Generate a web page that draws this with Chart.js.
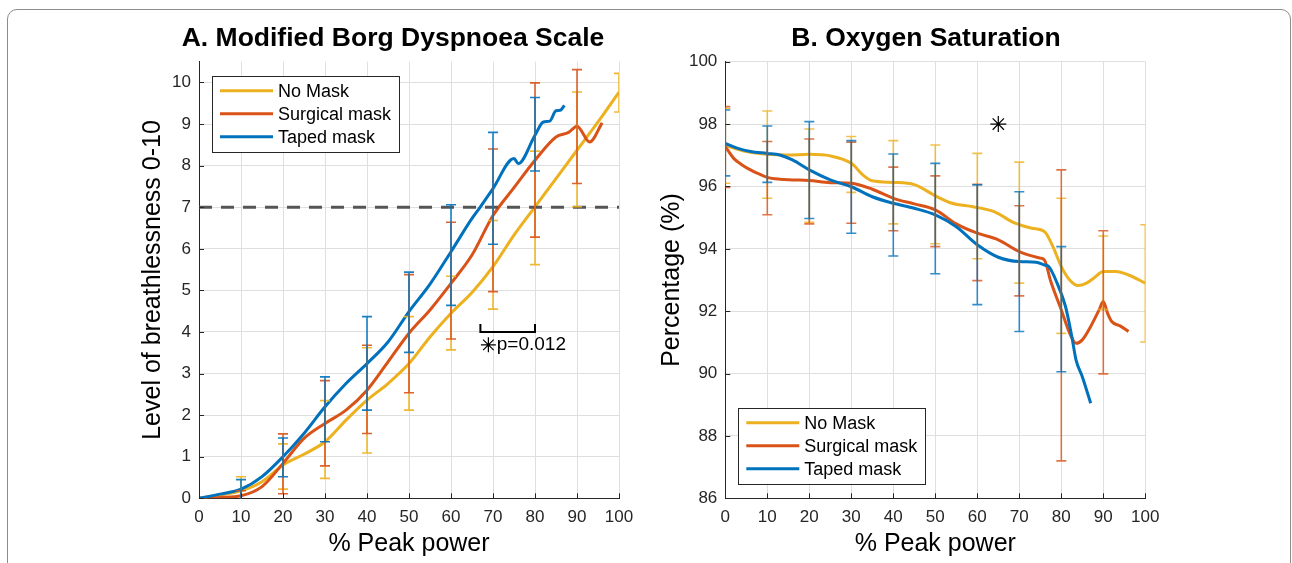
<!DOCTYPE html>
<html>
<head>
<meta charset="utf-8">
<script src="https://cdn.jsdelivr.net/npm/chart.js@4.4.1/dist/chart.umd.min.js"></script>
<style>
  html, body { margin: 0; padding: 0; background: #fff; }
  body { width: 1292px; height: 563px; position: relative; overflow: hidden; }
  #frame { position: absolute; left: 7px; top: 9px; width: 1282px; height: 620px; border: 1px solid #8c8c8c; border-radius: 10px; }
  canvas { position: absolute; top: 0; }
  #chartA { left: 0; }
  #chartB { left: 560px; }
</style>
</head>
<body>
<div id="frame"></div>
<canvas id="chartA" width="786" height="563"></canvas>
<canvas id="chartB" width="732" height="563"></canvas>
<script>
// ---- Panel A: Modified Borg Dyspnoea Scale ----
const borgNoMaskX = [0, 5, 10, 15, 20, 25, 30, 35, 40, 45, 50, 55, 60, 65, 70, 75, 80, 85, 90, 95, 100];
const borgNoMask = [0, 0.08, 0.18, 0.40, 0.80, 1.06, 1.36, 1.88, 2.36, 2.76, 3.24, 3.88, 4.45, 4.95, 5.57, 6.33, 7.01, 7.69, 8.37, 9.05, 9.77];
const borgSurgicalX = [0, 5, 10, 15, 20, 25, 30, 35, 40, 45, 50, 55, 60, 65, 70, 75, 80, 85, 88, 90, 93, 96];
const borgSurgical = [0, 0.02, 0.06, 0.28, 0.84, 1.44, 1.80, 2.12, 2.60, 3.28, 3.97, 4.53, 5.17, 5.85, 6.80, 7.47, 8.13, 8.69, 8.80, 8.95, 8.57, 9.03];
const borgTapedX = [0, 5, 10, 15, 20, 25, 30, 35, 40, 45, 50, 55, 60, 65, 67, 70, 75, 76, 80, 82, 83.5, 85, 86, 87];
const borgTaped = [0, 0.1, 0.22, 0.52, 1.0, 1.56, 2.20, 2.76, 3.24, 3.76, 4.49, 5.15, 5.93, 6.73, 7.01, 7.45, 8.17, 8.05, 8.73, 9.05, 9.07, 9.32, 9.33, 9.45];

// error bars (mean +/- SD) at each 10 % step
const borgErrNoMaskX = [10, 20, 30, 40, 50, 60, 70, 80, 90, 100];
const borgErrNoMaskLo = [-0.1, 0.22, 0.48, 1.09, 2.12, 3.57, 4.55, 5.62, 7.01, 9.29];
const borgErrNoMaskHi = [0.52, 1.31, 2.35, 3.62, 4.37, 5.34, 6.68, 8.35, 9.77, 10.22];
const borgErrSurgicalX = [10, 20, 30, 40, 50, 60, 70, 80, 90];
const borgErrSurgicalLo = [-0.1, 0.11, 0.78, 1.56, 2.54, 3.83, 4.97, 6.28, 7.57];
const borgErrSurgicalHi = [0.18, 1.55, 2.83, 3.68, 5.38, 6.64, 8.40, 9.99, 10.31];
const borgErrTapedX = [10, 20, 30, 40, 50, 60, 70, 80];
const borgErrTapedLo = [-0.05, 0.52, 1.36, 2.12, 3.51, 4.64, 6.11, 7.87];
const borgErrTapedHi = [0.45, 1.45, 2.92, 4.37, 5.44, 7.06, 8.80, 9.64];

const borgThresholdX = [0, 100];
const borgThreshold = [7, 7];
const borgSigBracketX = [67, 80];
const borgSigBracketY = [4.0, 4.19];
const borgSigStar = [68.9, 3.69];
const borgSigText = "p=0.012";
const borgSigTextX = 70.9;

// ---- Panel B: Oxygen Saturation ----
const spo2NoMaskX = [0, 5, 10, 15, 20, 25, 30, 33, 35, 40, 45, 50, 54, 59, 64, 69, 73, 76, 78, 80, 82, 84, 86, 88, 90, 93, 96, 100];
const spo2NoMask = [97.32, 97.12, 97.03, 97.01, 97.03, 96.98, 96.74, 96.34, 96.18, 96.13, 96.06, 95.70, 95.46, 95.35, 95.19, 94.82, 94.66, 94.55, 94.07, 93.43, 93.00, 92.82, 92.90, 93.09, 93.27, 93.27, 93.16, 92.90];
const spo2SurgicalX = [0, 2, 4, 6, 8, 10, 13, 16, 20, 25, 30, 35, 40, 45, 50, 55, 60, 65, 70, 75, 76, 77.5, 80, 82, 83.5, 85, 87, 89, 90, 91, 92, 94, 96];
const spo2Surgical = [97.28, 96.90, 96.69, 96.53, 96.40, 96.29, 96.23, 96.21, 96.19, 96.12, 96.10, 95.91, 95.62, 95.44, 95.25, 94.80, 94.50, 94.29, 93.91, 93.70, 93.64, 92.95, 92.04, 91.29, 90.97, 91.08, 91.51, 92.04, 92.31, 91.94, 91.67, 91.53, 91.35];
const spo2TapedX = [0, 3, 6, 10, 13, 16, 20, 25, 30, 35, 40, 45, 50, 55, 60, 65, 70, 74, 76, 77, 79, 81, 82.5, 83.5, 85, 87];
const spo2Taped = [97.38, 97.22, 97.12, 97.06, 97.01, 96.85, 96.53, 96.21, 95.99, 95.67, 95.46, 95.30, 95.09, 94.71, 94.13, 93.73, 93.59, 93.57, 93.48, 93.43, 92.90, 92.15, 91.19, 90.44, 89.90, 89.05];

const spo2ErrNoMaskX = [0, 10, 20, 30, 40, 50, 60, 70, 80, 90, 100];
const spo2ErrNoMaskLo = [96.10, 95.62, 94.85, 95.81, 94.80, 94.16, 93.68, 92.90, 91.29, 92.05, 91.01];
const spo2ErrNoMaskHi = [98.50, 98.42, 97.84, 97.60, 97.47, 97.33, 97.06, 96.78, 95.62, 94.41, 94.77];
const spo2ErrSurgicalX = [0, 10, 20, 30, 40, 50, 60, 70, 80, 90];
const spo2ErrSurgicalLo = [95.97, 95.09, 94.80, 94.82, 94.58, 94.07, 92.98, 92.49, 87.20, 89.99];
const spo2ErrSurgicalHi = [98.56, 97.44, 97.52, 97.42, 96.62, 96.34, 96.07, 95.38, 96.53, 94.58];
const spo2ErrTapedX = [0, 10, 20, 30, 40, 50, 60, 70, 80];
const spo2ErrTapedLo = [96.34, 96.13, 94.97, 94.50, 93.77, 93.20, 92.21, 91.35, 90.06];
const spo2ErrTapedHi = [98.45, 97.94, 98.08, 97.47, 97.04, 96.74, 96.05, 95.83, 94.07];

const spo2SigStar = [65, 98];

const FONT = '"Liberation Sans", Arial, Helvetica, sans-serif';
const YELLOW = "#EDB120";
const ORANGE = "#D95319";
const BLUE = "#0072BD";
const AXIS = "#262626";

const xy = (xs, ys) => xs.map((x, i) => ({ x: x, y: ys[i] }));

function curve(label, xs, ys, color, order, err) {
    return {
        label: label,
        data: xy(xs, ys),
        borderColor: color,
        backgroundColor: color,
        borderWidth: 3,
        pointRadius: 0,
        cubicInterpolationMode: "monotone",
        fill: false,
        order: order,
        legendLabel: true,
        errX: err[0], errLo: err[1], errHi: err[2]
    };
}

function star(point, r) {
    return {
        data: [{ x: point[0], y: point[1] }],
        showLine: false,
        pointStyle: "star",
        pointRadius: r,
        pointBorderColor: "#000",
        pointBorderWidth: 1.2,
        order: 0
    };
}

// error bars drawn with the chart's own scales
const errorBars = {
    id: "errorBars",
    afterDatasetsDraw(chart, args, opts) {
        const { ctx, chartArea, scales } = chart;
        ctx.save();
        ctx.beginPath();
        ctx.rect(chartArea.left, chartArea.top, chartArea.width, chartArea.height);
        ctx.clip();
        ctx.globalAlpha = opts.alpha;
        ctx.lineWidth = 1.6;
        chart.data.datasets.filter(d => d.errX).forEach(ds => {
            ctx.strokeStyle = ds.borderColor;
            ds.errX.forEach((x, i) => {
                const px = scales.x.getPixelForValue(x);
                const lo = scales.y.getPixelForValue(ds.errLo[i]);
                const hi = scales.y.getPixelForValue(ds.errHi[i]);
                ctx.beginPath();
                ctx.moveTo(px, lo); ctx.lineTo(px, hi);
                ctx.moveTo(px - 5, lo); ctx.lineTo(px + 5, lo);
                ctx.moveTo(px - 5, hi); ctx.lineTo(px + 5, hi);
                ctx.stroke();
            });
        });
        ctx.restore();
    }
};

// inward tick marks like the original figure
const innerTicks = {
    id: "innerTicks",
    afterDraw(chart) {
        const { ctx, chartArea, scales } = chart;
        ctx.save();
        ctx.strokeStyle = AXIS;
        ctx.lineWidth = 1;
        ctx.beginPath();
        scales.x.ticks.forEach(t => {
            const px = Math.round(scales.x.getPixelForValue(t.value)) + 0.5;
            ctx.moveTo(px, chartArea.bottom); ctx.lineTo(px, chartArea.bottom - 5);
        });
        scales.y.ticks.forEach(t => {
            const py = Math.round(scales.y.getPixelForValue(t.value)) + 0.5;
            ctx.moveTo(chartArea.left, py); ctx.lineTo(chartArea.left + 5, py);
        });
        ctx.stroke();
        ctx.restore();
    }
};

// panel title, centred slightly left of the plot like the original
const panelTitle = {
    id: "panelTitle",
    afterDraw(chart, args, opts) {
        const { ctx, chartArea } = chart;
        ctx.save();
        ctx.fillStyle = "#000";
        ctx.font = "bold 26.5px " + FONT;
        ctx.textAlign = "center";
        ctx.textBaseline = "middle";
        ctx.fillText(opts.text, (chartArea.left + chartArea.right) / 2 + opts.dx, 38.6);
        ctx.restore();
    }
};

const legendBox = {
    id: "legendBox",
    afterDraw(chart, args, opts) {
        const { ctx, chartArea } = chart;
        const left = chartArea.left + opts.dx;
        const top = opts.fromBottom ? chartArea.bottom - opts.dy - opts.h : chartArea.top + opts.dy;
        ctx.save();
        ctx.fillStyle = "#fff";
        ctx.fillRect(left, top, opts.w, opts.h);
        ctx.strokeStyle = AXIS;
        ctx.lineWidth = 1;
        ctx.strokeRect(Math.round(left) + 0.5, Math.round(top) + 0.5, opts.w, opts.h);
        ctx.font = "18px " + FONT;
        ctx.textBaseline = "middle";
        let row = 0;
        chart.data.datasets.forEach(ds => {
            if (!ds.legendLabel) return;
            const y = top + 15 + row * 23;
            ctx.strokeStyle = ds.borderColor;
            ctx.lineWidth = 3;
            ctx.beginPath();
            ctx.moveTo(left + 8, y); ctx.lineTo(left + 61, y);
            ctx.stroke();
            ctx.fillStyle = "#000";
            ctx.fillText(ds.label, left + 66, y + 1);
            row++;
        });
        ctx.restore();
    }
};

const sigNote = {
    id: "sigNote",
    afterDatasetsDraw(chart, args, opts) {
        if (!opts || !opts.bracketX) return;
        const { ctx, scales } = chart;
        const x1 = scales.x.getPixelForValue(opts.bracketX[0]);
        const x2 = scales.x.getPixelForValue(opts.bracketX[1]);
        const yb = scales.y.getPixelForValue(opts.bracketY[0]);
        const yt = scales.y.getPixelForValue(opts.bracketY[1]);
        ctx.save();
        ctx.strokeStyle = "#000";
        ctx.lineWidth = 2;
        ctx.beginPath();
        ctx.moveTo(x1, yt); ctx.lineTo(x1, yb); ctx.lineTo(x2, yb); ctx.lineTo(x2, yt);
        ctx.stroke();
        ctx.fillStyle = "#000";
        ctx.font = "19px " + FONT;
        ctx.textBaseline = "middle";
        ctx.fillText(opts.text, scales.x.getPixelForValue(opts.textX), scales.y.getPixelForValue(opts.textY));
        ctx.restore();
    }
};

function panelOptions(p) {
    return {
        responsive: false,
        animation: false,
        events: [],
        layout: { padding: { left: p.padLeft, right: p.padRight, top: 61.7, bottom: 0 } },
        plugins: {
            legend: { display: false },
            tooltip: { enabled: false },
            title: { display: false },
            panelTitle: { text: p.title, dx: p.titleDx },
            errorBars: { alpha: p.alpha },
            legendBox: p.legend,
            sigNote: p.sig
        },
        scales: {
            x: {
                type: "linear",
                min: 0, max: 100,
                ticks: { stepSize: 10, autoSkip: false, maxRotation: 0, padding: 9, color: AXIS, font: { family: FONT, size: 17 } },
                grid: { color: "#dfdfdf", drawTicks: false },
                border: { color: AXIS, width: 1 },
                title: { display: true, text: "% Peak power", color: "#000", font: { family: FONT, size: 25 }, padding: { top: 4, bottom: 4 } },
                afterFit: s => { s.height = 64.7; }
            },
            y: {
                type: "linear",
                min: p.yMin, max: p.yMax,
                ticks: { stepSize: p.yStep, includeBounds: false, padding: 8, color: AXIS, font: { family: FONT, size: 17 } },
                grid: { color: "#dfdfdf", drawTicks: false },
                border: { color: AXIS, width: 1 },
                title: { display: true, text: p.yTitle, color: "#000", font: { family: FONT, size: 25 }, padding: { top: 4, bottom: 4 } },
                afterFit: s => { s.width = p.yWidth; }
            }
        }
    };
}

new Chart(document.getElementById("chartA").getContext("2d"), {
    type: "line",
    data: {
        datasets: [
            curve("No Mask", borgNoMaskX, borgNoMask, YELLOW, 3, [borgErrNoMaskX, borgErrNoMaskLo, borgErrNoMaskHi]),
            curve("Surgical mask", borgSurgicalX, borgSurgical, ORANGE, 2, [borgErrSurgicalX, borgErrSurgicalLo, borgErrSurgicalHi]),
            curve("Taped mask", borgTapedX, borgTaped, BLUE, 1, [borgErrTapedX, borgErrTapedLo, borgErrTapedHi]),
            {
                data: xy(borgThresholdX, borgThreshold),
                borderColor: "#555555",
                borderWidth: 3,
                borderDash: [13, 9],
                pointRadius: 0,
                order: 0
            },
            star(borgSigStar, 7.5)
        ]
    },
    options: panelOptions({
        title: "A. Modified Borg Dyspnoea Scale", titleDx: -16,
        yTitle: "Level of breathlessness 0-10",
        yMin: 0, yMax: 10.5, yStep: 1,
        padLeft: 134.6, yWidth: 64.4, padRight: 167,
        alpha: 0.9,
        legend: { dx: 13, dy: 14, w: 187, h: 76, fromBottom: false },
        sig: { bracketX: borgSigBracketX, bracketY: borgSigBracketY, text: borgSigText, textX: borgSigTextX, textY: borgSigStar[1] }
    }),
    plugins: [errorBars, innerTicks, legendBox, sigNote, panelTitle]
});

new Chart(document.getElementById("chartB").getContext("2d"), {
    type: "line",
    data: {
        datasets: [
            curve("No Mask", spo2NoMaskX, spo2NoMask, YELLOW, 3, [spo2ErrNoMaskX, spo2ErrNoMaskLo, spo2ErrNoMaskHi]),
            curve("Surgical mask", spo2SurgicalX, spo2Surgical, ORANGE, 2, [spo2ErrSurgicalX, spo2ErrSurgicalLo, spo2ErrSurgicalHi]),
            curve("Taped mask", spo2TapedX, spo2Taped, BLUE, 1, [spo2ErrTapedX, spo2ErrTapedLo, spo2ErrTapedHi]),
            star(spo2SigStar, 8)
        ]
    },
    options: panelOptions({
        title: "B. Oxygen Saturation", titleDx: -9.3,
        yTitle: "Percentage (%)",
        yMin: 86, yMax: 100, yStep: 2,
        padLeft: 93.6, yWidth: 71.7, padRight: 146.7,
        alpha: 0.8,
        legend: { dx: 13, dy: 14.6, w: 187, h: 76, fromBottom: true },
        sig: null
    }),
    plugins: [errorBars, innerTicks, legendBox, sigNote, panelTitle]
});
</script>
</body>
</html>
